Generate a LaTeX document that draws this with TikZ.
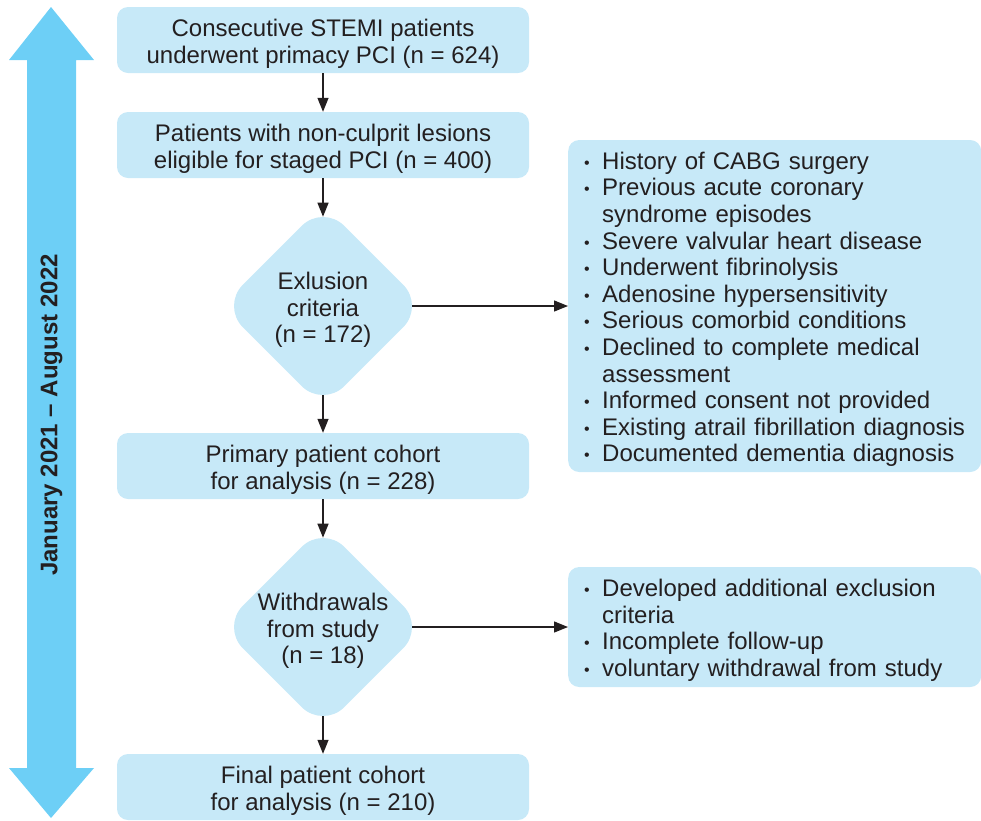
\documentclass[tikz,border=0pt]{standalone}
\usepackage{fontspec}
\setmainfont{Liberation Sans}
\usetikzlibrary{shapes.geometric,arrows.meta}
\definecolor{boxfill}{RGB}{199,233,248}
\definecolor{bandblue}{RGB}{109,207,246}
\definecolor{ink}{RGB}{35,31,32}
% small list bullet and fixed-width list lines
\newcommand\listdot{\raisebox{1pt}{\fontsize{16}{16}\selectfont\textbullet}}
\newcommand\bitem[1]{\mbox{\makebox[18pt][l]{\listdot}#1}}
\newcommand\bcont[1]{\mbox{\hspace*{18pt}#1}}
% taller first line so that box text sits slightly low, as set
\newcommand\firstline{\rule{0pt}{25.5pt}}
\newcommand\listtop{\rule{0pt}{24pt}}
\begin{document}
\begin{tikzpicture}[x=1pt, y=-1pt,
  every node/.style={text=ink, font=\fontsize{24}{26.6}\selectfont},
  stepbox/.style={fill=boxfill, rounded corners=11pt, minimum width=412pt,
    minimum height=66pt, align=center, inner sep=0pt},
  dia/.style={diamond, fill=boxfill, rounded corners=30pt, minimum width=203pt,
    minimum height=203pt, inner sep=0pt},
  diatext/.style={align=center, inner sep=0pt},
  listbox/.style={fill=boxfill, rounded corners=11pt, text width=381pt,
    inner xsep=16pt, inner ysep=0pt, align=left, anchor=west},
  arr/.style={draw=ink, line width=1.3pt, -{Triangle[length=14pt,width=11pt]}},
]
\useasboundingbox (0,0) rectangle (981,820);

% study period band
\fill[bandblue] (51,7) -- (94,60) -- (76,60) -- (76,768) -- (94,768) -- (51,818)
  -- (9,768) -- (27,768) -- (27,60) -- (9,60) -- cycle;
\node[rotate=90, font=\bfseries\fontsize{24}{26.6}\selectfont] (period) at (51.5,415)
  {January 2021 – August 2022};

% main flow
\node[stepbox] (b1) at (323,40) {\firstline Consecutive STEMI patients\\underwent primacy PCI (n = 624)};
\node[stepbox] (b2) at (323,145) {\firstline Patients with non-culprit lesions\\eligible for staged PCI (n = 400)};
\node[dia] (d1) at (323,306) {};
\node[diatext] (d1t) at (d1) {\firstline Exlusion\\criteria\\(n = 172)};
\node[stepbox] (b3) at (323,466) {\firstline Primary patient cohort\\for analysis (n = 228)};
\node[dia] (d2) at (323,627) {};
\node[diatext] (d2t) at (d2) {\firstline Withdrawals\\from study\\(n = 18)};
\node[stepbox] (b4) at (323,787) {\firstline Final patient cohort\\for analysis (n = 210)};

% reason lists
\node[listbox, minimum height=332pt] (l1) at (568,306) {%
  \listtop\bitem{History of CABG surgery}\\
  \bitem{Previous acute coronary}\\
  \bcont{syndrome episodes}\\
  \bitem{Severe valvular heart disease}\\
  \bitem{Underwent fibrinolysis}\\
  \bitem{Adenosine hypersensitivity}\\
  \bitem{Serious comorbid conditions}\\
  \bitem{Declined to complete medical}\\
  \bcont{assessment}\\
  \bitem{Informed consent not provided}\\
  \bitem{Existing atrail fibrillation diagnosis}\\
  \bitem{Documented dementia diagnosis}};
\node[listbox, minimum height=120pt] (l2) at (568,627) {%
  \listtop\bitem{Developed additional exclusion}\\
  \bcont{criteria}\\
  \bitem{Incomplete follow-up}\\
  \bitem{voluntary withdrawal from study}};

% connectors (diamond tips are rounded, so reach past the sharp anchors)
\draw[arr] (b1.south) -- (b2.north);
\draw[arr, shorten >=-12.4pt] (b2.south) -- (d1.north);
\draw[arr, shorten <=-12.4pt] (d1.south) -- (b3.north);
\draw[arr, shorten >=-12.4pt] (b3.south) -- (d2.north);
\draw[arr, shorten <=-12.4pt] (d2.south) -- (b4.north);
\draw[arr, shorten <=-12.4pt] (d1.east) -- (l1.west);
\draw[arr, shorten <=-12.4pt] (d2.east) -- (l2.west);
\end{tikzpicture}
\end{document}
